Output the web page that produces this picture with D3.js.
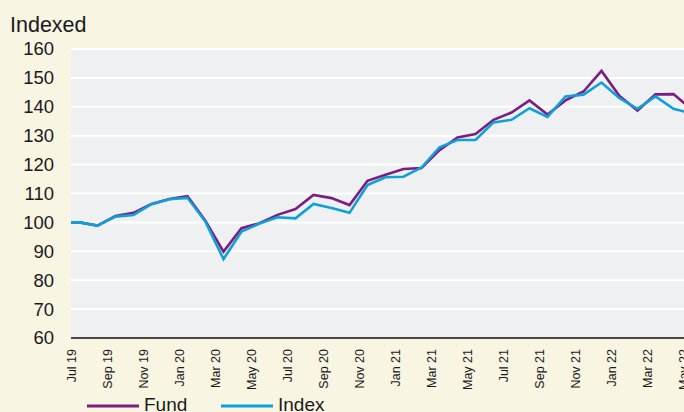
<!DOCTYPE html>
<html>
<head>
<meta charset="utf-8">
<script src="https://cdn.jsdelivr.net/npm/d3@7"></script>
<style>
  html, body { margin: 0; padding: 0; background: #f8f5e3; overflow: hidden; }
  svg { display: block; font-family: "Liberation Sans", Arial, Helvetica, sans-serif; }
</style>
</head>
<body>
<div id="chart"></div>
<script>
    // month labels, Jun 19 is the base point (sits just left of the plot)
    const months = ["Jun 19", "Jul 19", "Aug 19", "Sep 19", "Oct 19", "Nov 19", "Dec 19",
        "Jan 20", "Feb 20", "Mar 20", "Apr 20", "May 20", "Jun 20", "Jul 20", "Aug 20",
        "Sep 20", "Oct 20", "Nov 20", "Dec 20", "Jan 21", "Feb 21", "Mar 21", "Apr 21",
        "May 21", "Jun 21", "Jul 21", "Aug 21", "Sep 21", "Oct 21", "Nov 21", "Dec 21",
        "Jan 22", "Feb 22", "Mar 22", "Apr 22", "May 22"];

    const fund = [100, 100, 98.9, 102.2, 103.3, 106.4, 108.1, 109.1, 100.5, 89.9, 98.0,
        99.7, 102.6, 104.6, 109.5, 108.4, 106.0, 114.4, 116.5, 118.5, 118.8, 125.0, 129.4,
        130.6, 135.5, 138.0, 142.2, 137.3, 142.2, 145.3, 152.4, 143.7, 138.7, 144.3, 144.4, 139.1];

    const index = [100, 100, 98.9, 102.0, 102.6, 106.3, 108.0, 108.5, 100.2, 87.3, 96.8,
        99.6, 101.8, 101.4, 106.4, 105.0, 103.3, 112.9, 115.6, 115.8, 119.0, 126.0, 128.5,
        128.5, 134.6, 135.5, 139.5, 136.5, 143.6, 144.2, 148.4, 143.0, 139.3, 143.6, 139.3, 137.7];

    const xLabels = ["Jul 19", "Sep 19", "Nov 19", "Jan 20", "Mar 20", "May 20", "Jul 20",
        "Sep 20", "Nov 20", "Jan 21", "Mar 21", "May 21", "Jul 21", "Sep 21", "Nov 21",
        "Jan 22", "Mar 22", "May 22"];
    const yTicks = [60, 70, 80, 90, 100, 110, 120, 130, 140, 150, 160];

    const seriesNames = ["Fund", "Index"];
    const seriesColors = ["#7b1e80", "#0ea0da"];

    const width = 684,
          height = 412;
    const plot = {left: 71, right: 684, top: 49, bottom: 338};

    var svg = d3.select("#chart").append("svg")
                .attr("width", width)
                .attr("height", height);

    svg.append("rect")
        .attr("width", width)
        .attr("height", height)
        .attr("fill", "#f8f5e3");

    var x = d3.scalePoint()
        .domain(months)
        .range([61.5, 691.5]);

    var y = d3.scaleLinear()
        .domain([60, 160])
        .range([plot.bottom, plot.top]);

    svg.append("defs").append("clipPath")
        .attr("id", "clip")
        .append("rect")
            .attr("x", plot.left)
            .attr("y", plot.top - 3)
            .attr("width", plot.right - plot.left)
            .attr("height", plot.bottom - plot.top + 3);

    // plot background
    svg.append("rect")
        .attr("x", plot.left)
        .attr("y", plot.top)
        .attr("width", plot.right - plot.left)
        .attr("height", plot.bottom - plot.top)
        .attr("fill", "#eff0f2");

    // white gridlines
    svg.append("g")
        .selectAll("line")
        .data(yTicks.filter(d => d > 60))
        .join("line")
            .attr("x1", plot.left)
            .attr("x2", plot.right)
            .attr("y1", d => y(d))
            .attr("y2", d => y(d))
            .attr("stroke", "#fff")
            .attr("stroke-width", 2);

    // y axis labels
    var yAxis = svg.append("g")
        .attr("transform", `translate(${plot.left},0)`)
        .call(d3.axisLeft(y).tickValues(yTicks).tickSize(0).tickPadding(17));
    yAxis.select(".domain").remove();
    yAxis.selectAll("text")
        .attr("font-size", "18.5px")
        .attr("font-family", "Liberation Sans, Arial, sans-serif")
        .attr("fill", "#1a1a1a");

    // x axis, rotated labels sit a little left of their points
    var xAxis = svg.append("g")
        .attr("transform", `translate(0,${plot.bottom})`)
        .call(d3.axisBottom(x).tickValues(xLabels).tickSize(0));
    xAxis.select(".domain").remove();
    xAxis.selectAll("text")
        .attr("font-size", "12.5px")
        .attr("font-family", "Liberation Sans, Arial, sans-serif")
        .attr("fill", "#1a1a1a")
        .attr("transform", "rotate(-90)")
        .attr("text-anchor", "end")
        .attr("x", -11)
        .attr("y", -4.5)
        .attr("dy", 0);

    svg.append("line")
        .attr("x1", plot.left)
        .attr("x2", plot.right)
        .attr("y1", plot.bottom)
        .attr("y2", plot.bottom)
        .attr("stroke", "#111")
        .attr("stroke-width", 1.5);

    var line = d3.line()
        .x((d, i) => x(months[i]))
        .y(d => y(d));

    var lines = svg.append("g").attr("clip-path", "url(#clip)");
    [fund, index].forEach((values, k) => {
        lines.append("path")
            .attr("d", line(values))
            .attr("fill", "none")
            .attr("stroke", seriesColors[k])
            .attr("stroke-width", 2.6)
            .attr("stroke-linejoin", "miter");
    });

    // title
    svg.append("text")
        .attr("x", 10)
        .attr("y", 31.5)
        .attr("font-size", "21.5px")
        .attr("fill", "#1a1a1a")
        .text("Indexed");

    // legend
    var legend = svg.append("g")
        .selectAll("g")
        .data(seriesNames)
        .join("g")
            .attr("transform", (d, i) => `translate(${87 + i * 134},406)`);
    legend.append("line")
        .attr("x1", 0)
        .attr("x2", 52)
        .attr("stroke", (d, i) => seriesColors[i])
        .attr("stroke-width", 3);
    legend.append("text")
        .attr("x", 57)
        .attr("y", 5)
        .attr("font-size", "19px")
        .attr("fill", "#1a1a1a")
        .text(d => d);
</script>
</body>
</html>
